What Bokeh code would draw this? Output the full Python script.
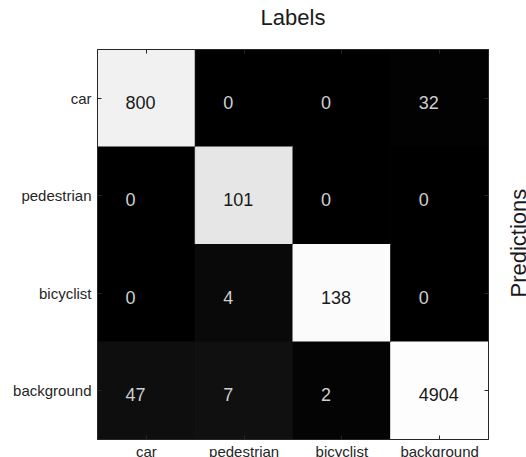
import numpy as np
from bokeh.plotting import figure
from bokeh.models import ColumnDataSource, Range1d, FixedTicker, LinearAxis
from bokeh.core.properties import value
from bokeh.embed import file_html
from bokeh.resources import INLINE

# Class names (rows = predictions, columns = labels)
classes = ["car", "pedestrian", "bicyclist", "background"]

# Confusion counts, one list per predicted class
pred_car = [800, 0, 0, 32]
pred_pedestrian = [0, 101, 0, 0]
pred_bicyclist = [0, 4, 138, 0]
pred_background = [47, 7, 2, 4904]

counts = np.array([pred_car, pred_pedestrian, pred_bicyclist, pred_background])

# Shade each cell by its share of the column total (grayscale)
col_tot = counts.sum(axis=0)
share = counts / col_tot[None, :]

xs, ys, fills, txt, txt_col = [], [], [], [], []
for i in range(len(classes)):
    for j in range(len(classes)):
        g = int(round(255 * share[i, j]))
        xs.append(j)
        ys.append(i)
        fills.append("#%02x%02x%02x" % (g, g, g))
        txt.append(str(counts[i, j]))
        txt_col.append("#1a1a1a" if share[i, j] > 0.5 else "#cfcfcf")

src = ColumnDataSource(dict(x=xs, y=ys, fill=fills, text=txt, tcol=txt_col))

FONT = "Liberation Sans"
INK = "#262626"

p = figure(frame_width=391, frame_height=390,
           x_range=Range1d(-0.5, 3.5), y_range=Range1d(3.5, -0.5),
           output_backend="svg", toolbar_location=None,
           min_border_left=97, min_border_right=0,
           min_border_top=49, min_border_bottom=0,
           x_axis_location="below", y_axis_location="left")
p.background_fill_color = "white"
p.border_fill_color = "white"
p.grid.visible = False
p.outline_line_color = INK
p.outline_line_width = 1

p.rect(x="x", y="y", width=1, height=1, source=src,
       fill_color="fill", line_color="fill", line_width=1)

p.text(x="x", y="y", text="text", source=src, text_color="tcol",
       text_font=value(FONT), text_font_size="18px",
       text_align="left", text_baseline="middle",
       x_offset=-21, y_offset=4)

ticks = list(range(len(classes)))
overrides = {i: c for i, c in enumerate(classes)}

def style_axis(ax, labels=True, standoff=4):
    ax.ticker = FixedTicker(ticks=ticks)
    ax.major_tick_in = 4
    ax.major_tick_out = 0
    ax.minor_tick_in = 0
    ax.minor_tick_out = 0
    ax.major_tick_line_color = INK
    ax.axis_line_color = INK
    ax.major_label_standoff = standoff
    if labels:
        ax.major_label_overrides = overrides
        ax.major_label_text_font = FONT
        ax.major_label_text_font_size = "15px"
        ax.major_label_text_color = INK
    else:
        ax.major_label_text_color = None
        ax.major_label_text_font_size = "0px"
    ax.axis_label_text_font = FONT
    ax.axis_label_text_font_size = "22px"
    ax.axis_label_text_font_style = "normal"
    ax.axis_label_text_color = "#1a1a1a"

style_axis(p.xaxis[0], standoff=3)
style_axis(p.yaxis[0], standoff=6)

# Column axis title on top
top_ax = LinearAxis(axis_label="Labels")
style_axis(top_ax, labels=False, standoff=0)
top_ax.axis_label_standoff = 20
p.add_layout(top_ax, "above")

# Inward ticks on the right edge
right_ax = LinearAxis()
style_axis(right_ax, labels=False, standoff=0)
p.add_layout(right_ax, "right")

# Row axis title, reading upward from its anchor
pred_title = "Predictions"
pred_anchor = 2.044
title_ax = LinearAxis(ticker=FixedTicker(ticks=[pred_anchor]),
                      major_label_overrides={pred_anchor: pred_title})
title_ax.axis_line_color = None
title_ax.major_tick_in = 0
title_ax.major_tick_out = 0
title_ax.minor_tick_in = 0
title_ax.minor_tick_out = 0
title_ax.major_label_orientation = np.pi / 2
title_ax.major_label_standoff = 30
title_ax.major_label_text_font = FONT
title_ax.major_label_text_font_size = "22px"
title_ax.major_label_text_color = "#1a1a1a"
p.add_layout(title_ax, "right")

open("out.html", "w").write(file_html(p, INLINE))
